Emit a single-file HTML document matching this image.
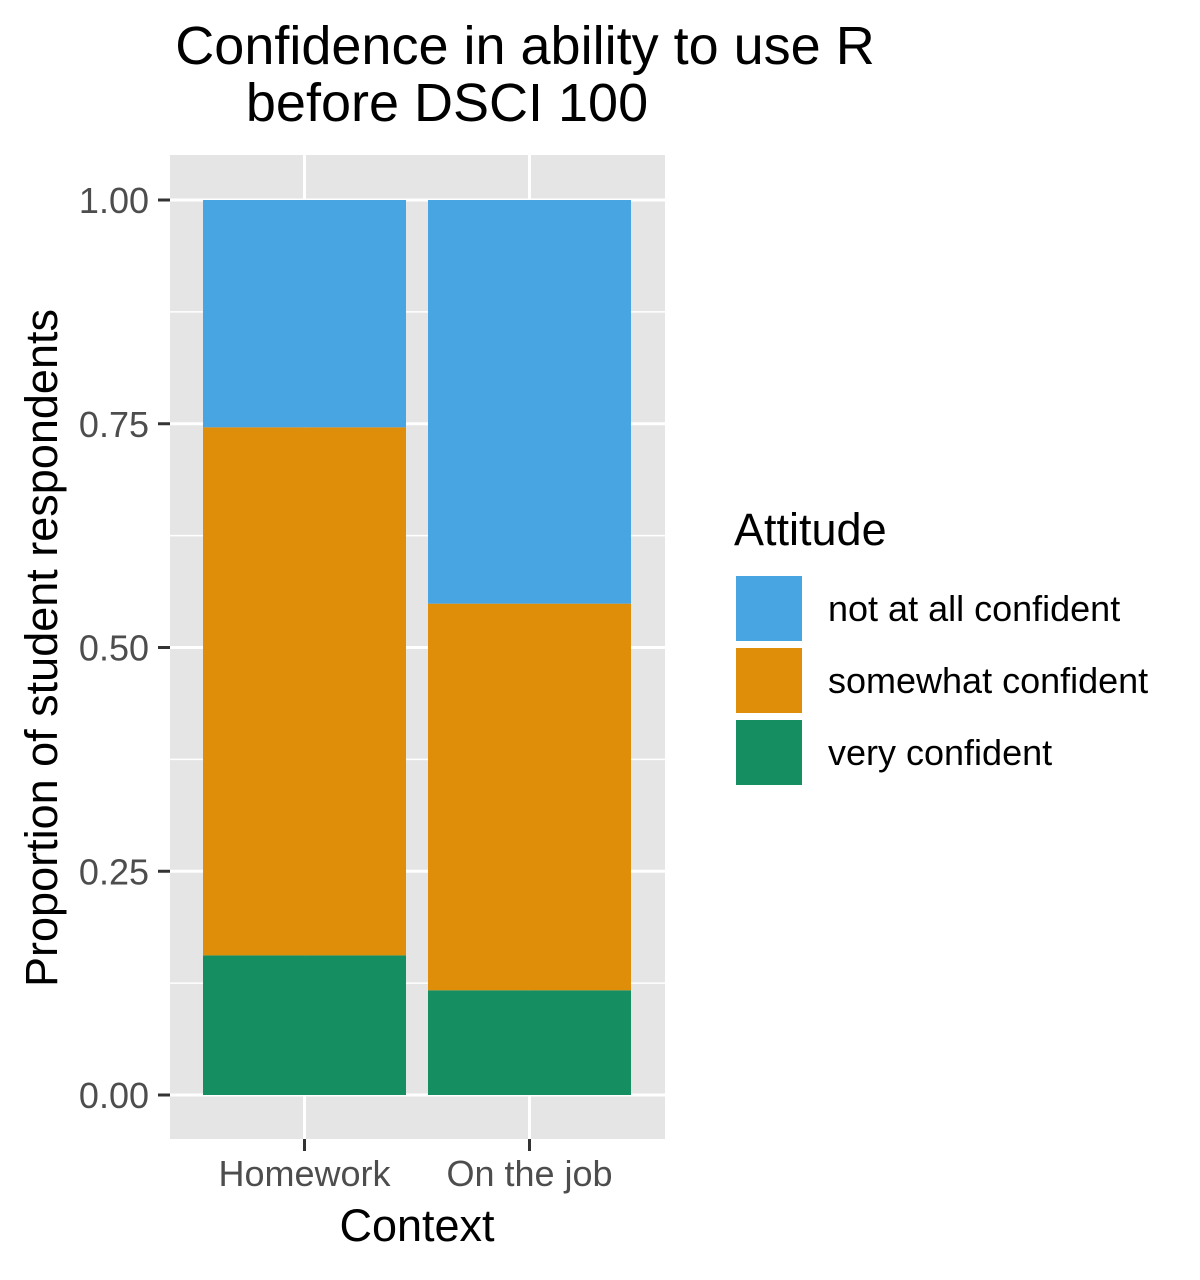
<!DOCTYPE html>
<html><head><meta charset="utf-8"><style>
body{margin:0;background:#fff;}
svg text{font-family:"Liberation Sans",Arial,sans-serif;}
</style></head><body>
<svg id="chart" width="1200" height="1275" xmlns="http://www.w3.org/2000/svg">
<text x="525" y="64" font-size="54" text-anchor="middle" fill="#000">Confidence in ability to use R</text>
<text x="447" y="121" font-size="54" text-anchor="middle" fill="#000">before DSCI 100</text>
<rect x="170" y="155" width="495" height="984" fill="#e5e5e5"/>
<g id="grid"></g>
<g id="bars"></g>
<g id="axes"></g>
<text transform="translate(57,648) rotate(-90)" font-size="45" text-anchor="middle" fill="#000">Proportion of student respondents</text>
<text x="417" y="1241" font-size="45" text-anchor="middle" fill="#000">Context</text>
<g id="legend">
<text x="734" y="545" font-size="45" fill="#000">Attitude</text>
</g>
</svg>
<script>
const categories = ["Homework", "On the job"];
const attitudes = ["very confident", "somewhat confident", "not at all confident"];
const veryConfident = [0.156, 0.117];
const somewhatConfident = [0.590, 0.432];
const notAtAllConfident = [0.254, 0.451];
const yTicks = [0, 0.25, 0.5, 0.75, 1.0];
const yTickLabels = ["0.00", "0.25", "0.50", "0.75", "1.00"];
const colors = {"very confident":"#158f62","somewhat confident":"#df8e09","not at all confident":"#49a5e2"};

const NS = "http://www.w3.org/2000/svg";
const y = v => 1095 - v * 895;
const band = 225;
const xCenter = i => 304.5 + i * band;
const barW = 203;
function mk(tag, attrs, parent){const e=document.createElementNS(NS,tag);for(const k in attrs)e.setAttribute(k,attrs[k]);parent.appendChild(e);return e;}
const grid = document.getElementById('grid'), bars = document.getElementById('bars'), axes = document.getElementById('axes');
for (let i = 0; i < yTicks.length - 1; i++) {
  const m = (yTicks[i] + yTicks[i+1]) / 2;
  const l = mk('line',{x1:170,x2:665,y1:y(m),y2:y(m),stroke:'#fff','stroke-width':1.5},grid);
  
  
}
yTicks.forEach((t, i) => {
  const l = mk('line',{x1:170,x2:665,y1:y(t),y2:y(t),stroke:'#fff','stroke-width':3},grid);
  
  
  const tk = mk('line',{x1:158,x2:170,y1:y(t),y2:y(t),stroke:'#333','stroke-width':3},axes);
  
  
  const tx = mk('text',{x:149,y:y(t)+13,'font-size':36,'text-anchor':'end',fill:'#4d4d4d'},axes);
  tx.textContent = yTickLabels[i];
  
  
});
categories.forEach((c, i) => {
  const cx = xCenter(i);
  const l = mk('line',{x1:cx,x2:cx,y1:155,y2:1139,stroke:'#fff','stroke-width':3},grid);
  
  
  const tk = mk('line',{x1:cx,x2:cx,y1:1139,y2:1151,stroke:'#333','stroke-width':3},axes);
  
  
  const tx = mk('text',{x:cx,y:1186,'font-size':36,'text-anchor':'middle',fill:'#4d4d4d'},axes);
  tx.textContent = c;
  
  
  const series = [veryConfident[i], somewhatConfident[i], notAtAllConfident[i]];
  let cum = 0;
  series.forEach((v, j) => {
    const r = mk('rect',{x:cx-barW/2,y:y(cum+v),width:barW,height:y(cum)-y(cum+v),fill:colors[attitudes[j]]},bars);
    
    
    cum += v;
  });
});
const legend = document.getElementById('legend');
const order = ["not at all confident","somewhat confident","very confident"];
order.forEach((a, i) => {
  const ky = 576 + i * 72;
  const r = mk('rect',{x:736,y:ky,width:66,height:65,fill:colors[a]},legend);
  
  
  const t = mk('text',{x:828,y:ky+45,'font-size':36,fill:'#000'},legend);
  t.textContent = a;
  
  
});
</script>
</body></html>
